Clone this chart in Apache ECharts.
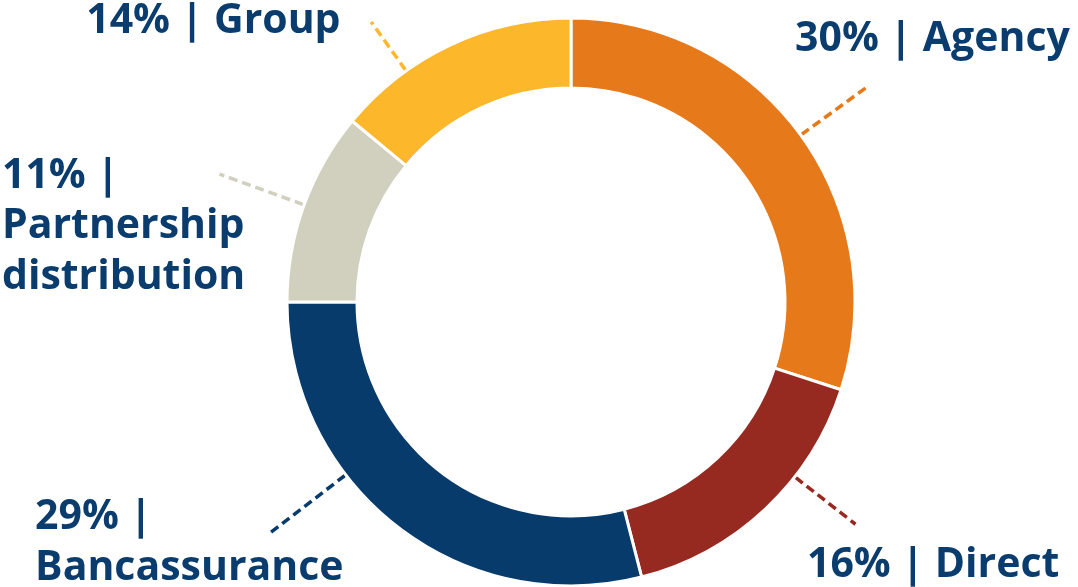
<!DOCTYPE html>
<html><head><meta charset="utf-8">
<script src="https://cdn.jsdelivr.net/npm/echarts@6/dist/echarts.min.js"></script>
<style>html,body{margin:0;padding:0;background:#fff}#c{width:1078px;height:587px}</style>
</head><body><div id="c"></div>
<script>
const categories = ['Agency', 'Direct', 'Bancassurance', 'Partnership distribution', 'Group'];
const shares = [30, 16, 29, 11, 14];
const colors = ['#E67A1A', '#972A20', '#073B6B', '#D1CFBD', '#FDB72B'];
const wrapLabel = [false, false, true, true, false];

// leader-line styling (angle clockwise from top, outer radius) and label offsets
const leaderAngle = [54, 128, 232.5, 290, 324.5];
const leaderOuter = [366, 361, 378, 374, 344];
const labelDx = [-72, -48.5, -236, -217.6, -285];
const labelDy = [-47.9, 41.2, 10.9, 52.4, -0.4];

const CX = 571, CY = 302, R_IN = 214, R_OUT = 284, LEAD_IN = 285;

const chart = echarts.init(document.getElementById('c'), null, {renderer: 'canvas'});
chart.setOption({
  animation: false,
  backgroundColor: '#ffffff',
  series: [{
    type: 'pie',
    center: [CX, CY],
    radius: [R_IN, R_OUT],
    startAngle: 90,
    clockwise: true,
    avoidLabelOverlap: false,
    itemStyle: {borderColor: '#ffffff', borderWidth: 3},
    data: categories.map((n, i) => ({name: n, value: shares[i], itemStyle: {color: colors[i]}})),
    label: {
      show: true,
      position: 'outside',
      color: '#0A3D6E',
      fontFamily: 'Open Sans',
      fontWeight: 'bold',
      fontSize: 41,
      lineHeight: 50.5,
      formatter: p => wrapLabel[p.dataIndex]
        ? p.value + '% |\n' + p.name.split(' ').join('\n')
        : p.value + '% | ' + p.name
    },
    labelLine: {show: true, length: 10, length2: 0, lineStyle: {width: 3.5, type: [9, 5]}},
    labelLayout: params => {
      const i = params.dataIndex;
      const a = leaderAngle[i] * Math.PI / 180;
      const p1 = [CX + LEAD_IN * Math.sin(a), CY - LEAD_IN * Math.cos(a)];
      const p2 = [CX + leaderOuter[i] * Math.sin(a), CY - leaderOuter[i] * Math.cos(a)];
      return {
        x: p2[0] + labelDx[i],
        y: p2[1] + labelDy[i],
        align: 'left',
        verticalAlign: 'middle',
        labelLinePoints: [p1, p2, p2]
      };
    }
  }]
});
</script></body></html>
